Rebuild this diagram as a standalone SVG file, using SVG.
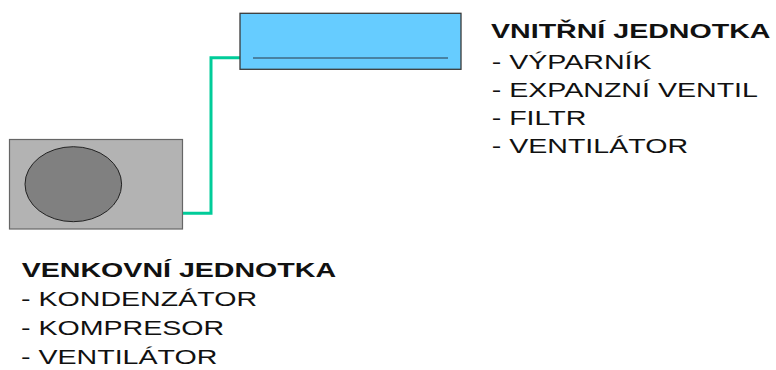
<svg xmlns="http://www.w3.org/2000/svg" width="776" height="370" viewBox="0 0 776 370">
<style>
.t{font-family:"Liberation Sans",Arial,sans-serif;font-size:20px;fill:#111}
.b{font-weight:bold}
.pipe{fill:none;stroke:#00CC99;stroke-width:3;stroke-linejoin:miter}
</style>
<rect width="776" height="370" fill="#fff"/>
<g id="connectors">
<polyline class="pipe" points="183,213.3 211,213.3 211,57.8 240,57.8"/>
</g>
<g id="indoor-unit">
<rect x="240" y="13.3" width="221" height="56" fill="#66CCFF" stroke="#3a3a3a" stroke-width="1.3"/>
<line x1="253" y1="58" x2="448" y2="58" stroke="#3F6A85" stroke-width="1.5"/>
</g>
<g id="outdoor-unit">
<rect x="9.5" y="139.5" width="173" height="89.5" fill="#B3B3B3" stroke="#666" stroke-width="1.2"/>
<ellipse cx="73.3" cy="184.2" rx="48.3" ry="37.5" fill="#808080" stroke="#222" stroke-width="1"/>
</g>
<g id="indoor-label" transform="translate(491,0) scale(1.43,1)">
<text class="t b" x="0" y="38">VNITŘNÍ JEDNOTKA</text>
<text class="t" x="0.5" y="69">- VÝPARNÍK</text>
<text class="t" x="0.5" y="97">- EXPANZNÍ VENTIL</text>
<text class="t" x="0.5" y="125">- FILTR</text>
<text class="t" x="0.5" y="153">- VENTILÁTOR</text>
</g>
<g id="outdoor-label" transform="translate(21,0) scale(1.43,1)">
<text class="t b" x="0.5" y="277">VENKOVNÍ JEDNOTKA</text>
<text class="t" x="0" y="306">- KONDENZÁTOR</text>
<text class="t" x="0" y="335">- KOMPRESOR</text>
<text class="t" x="0" y="364">- VENTILÁTOR</text>
</g>
</svg>
